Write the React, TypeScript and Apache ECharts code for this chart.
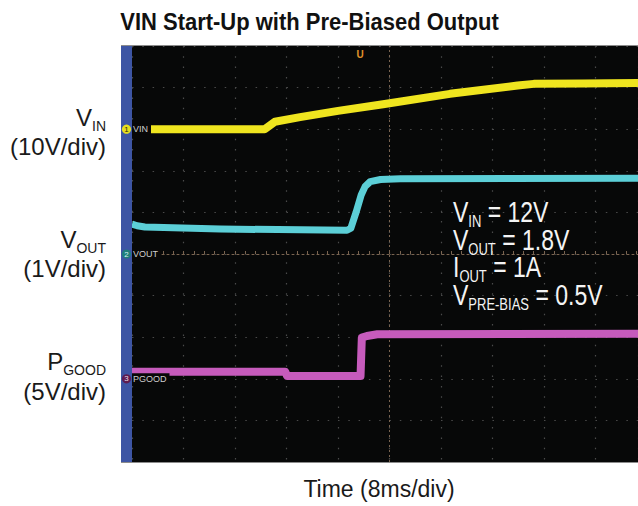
import React, { useEffect, useRef } from "react";
import * as echarts from "echarts";

// ---- data (time in ms, values in volts) ----
const vinTimes = [0, 20.6, 21.4, 22.2, 26.1, 32.0, 39.0, 49.4, 59.9, 62.4, 70.0, 78.6];
const vinVolts = [0, 0, 0.9, 1.8, 2.9, 4.4, 6.0, 8.5, 10.5, 10.9, 11.0, 11.1];

const voutTimes = [0, 0.8, 2.0, 13.7, 33.4, 34.0, 34.8, 35.6, 36.2, 37.0, 38.6, 41.7, 78.6];
const voutVolts = [0.72, 0.68, 0.65, 0.6, 0.57, 0.62, 1.0, 1.42, 1.62, 1.74, 1.79, 1.81, 1.82];

const pgoodTimes = [0, 23.8, 24.1, 35.5, 35.7, 36.5, 38.1, 78.6];
const pgoodVolts = [0.85, 0.85, 0.33, 0.33, 4.95, 5.15, 5.35, 5.42];

const timeMax = 78.6; // ms visible
const timeDiv = 8; // ms/div
const timeCenter = 40; // ms, centre graticule line
const vinScale = { min: -80, max: 20 }; // 10V/div
const voutScale = { min: -5, max: 5 }; // 1V/div
const pgoodScale = { min: -10, max: 40 }; // 5V/div

const titleText = "VIN Start-Up with Pre-Biased Output";
const timeLabel = "Time (8ms/div)";
const sideLabels = [
  { main: "V", sub: "IN", div: "(10V/div)" },
  { main: "V", sub: "OUT", div: "(1V/div)" },
  { main: "P", sub: "GOOD", div: "(5V/div)" },
];
const conditions = [
  { main: "V", sub: "IN", rest: " = 12V" },
  { main: "V", sub: "OUT", rest: " = 1.8V" },
  { main: "I", sub: "OUT", rest: " = 1A" },
  { main: "V", sub: "PRE-BIAS", rest: " = 0.5V" },
];
const channelNames = ["VIN", "VOUT", "PGOOD"];

const FONT = "Liberation Sans, Arial, Helvetica, sans-serif";

function pairs(t: number[], v: number[]) {
  return t.map((x, i) => [x, v[i]]);
}

export default function App() {
  const ref = useRef<HTMLDivElement>(null);
  useEffect(() => {
    const chart = echarts.init(ref.current!, null, { renderer: "svg" });

    const gridLeft = 132;
    const gridTop = 46;
    const gridH = 416;
    const gridW = 506;

    const subText = (
      x: number,
      y: number,
      main: string,
      sub: string,
      rest: string,
      align: string,
      size: number,
      subSize: number,
      lh: number,
      scaleY: number
    ) => ({
      type: "text",
      x,
      y,
      scaleY,
      z: 100,
      style: {
        text: `{m|${main}}{s|${sub}}` + (rest ? `{m|${rest}}` : ""),
        align,
        verticalAlign: "middle",
        fill: align === "right" ? "#1a1a1a" : "#f4f4f4",
        rich: {
          m: { fontSize: size, fontFamily: FONT, lineHeight: lh, verticalAlign: "middle" },
          s: { fontSize: subSize, fontFamily: FONT, lineHeight: subSize, verticalAlign: "bottom" },
        },
      },
    });

    const sideY = [
      [117, 146],
      [239, 268],
      [361, 391],
    ];
    const sideGraphics: any[] = [];
    sideLabels.forEach((l, i) => {
      sideGraphics.push(subText(106, sideY[i][0], l.main, l.sub, "", "right", 24, 14, 31, 1));
      sideGraphics.push({
        type: "text",
        x: 106,
        y: sideY[i][1],
        z: 100,
        style: { text: l.div, align: "right", verticalAlign: "middle", fontSize: 24, fontFamily: FONT, fill: "#1a1a1a" },
      });
    });

    const condY = [212, 240, 267, 295];
    const condGraphics = conditions.map((c, i) =>
      subText(453, condY[i], c.main, c.sub, c.rest, "left", 23, 13, 28, 1.25)
    );

    const markerY = [gridTop + 83.2, gridTop + 208, gridTop + 332.8];
    const markerFill = ["#e8df1e", "#1f7f7b", "#5e1c50"];
    const markerText = ["#2a2a10", "#d8f4f2", "#eadbe6"];
    const markerGraphics: any[] = [];
    channelNames.forEach((n, i) => {
      markerGraphics.push({
        type: "circle",
        z: 100,
        shape: { cx: 126.5, cy: markerY[i], r: 4.6 },
        style: { fill: markerFill[i] },
      });
      markerGraphics.push({
        type: "text",
        z: 101,
        x: 126.5,
        y: markerY[i],
        style: { text: String(i + 1), align: "center", verticalAlign: "middle", fontSize: 8, fontFamily: FONT, fill: markerText[i] },
      });
      markerGraphics.push({
        type: "text",
        z: 100,
        x: 132,
        y: markerY[i],
        style: {
          text: n,
          align: "left",
          verticalAlign: "middle",
          fontSize: 9,
          fontFamily: FONT,
          fill: "#cfcfcf",
          backgroundColor: "#080808",
          padding: [1, 3, 1, 1],
        },
      });
    });

    const centerColor = "#7a6450";
    const centerLine = { color: centerColor, width: 1, type: [2, 3] as any };

    const option: any = {
      animation: false,
      backgroundColor: "#ffffff",
      grid: {
        left: gridLeft,
        top: gridTop,
        width: gridW,
        height: gridH,
        show: true,
        backgroundColor: "#070808",
        borderWidth: 0,
      },
      xAxis: [
        {
          type: "value",
          min: 0,
          max: timeMax,
          interval: timeDiv,
          axisLine: { show: false },
          axisTick: { show: false },
          axisLabel: { show: false },
          splitLine: { show: true, lineStyle: { color: "#4a4a4a", width: 1.2, type: [1.5, 8.8] } },
        },
        {
          type: "value",
          min: 0,
          max: timeMax,
          interval: timeDiv,
          position: "bottom",
          offset: -208,
          axisLine: { show: true, onZero: false, lineStyle: centerLine },
          axisTick: { show: true, length: 3, inside: true, lineStyle: { color: centerColor } },
          minorTick: { show: true, splitNumber: 5, length: 3, lineStyle: { color: centerColor } },
          axisLabel: { show: false },
          splitLine: { show: false },
        },
      ],
      yAxis: [
        {
          type: "value",
          min: voutScale.min,
          max: voutScale.max,
          interval: 1,
          axisLine: { show: false },
          axisTick: { show: false },
          axisLabel: { show: false },
          splitLine: { show: true, lineStyle: { color: "#4a4a4a", width: 1.2, type: [1.5, 8.8] } },
        },
        { type: "value", min: vinScale.min, max: vinScale.max, show: false },
        { type: "value", min: pgoodScale.min, max: pgoodScale.max, show: false },
      ],
      series: [
        {
          name: "VIN",
          type: "line",
          yAxisIndex: 1,
          data: pairs(vinTimes, vinVolts),
          showSymbol: false,
          lineStyle: { color: "#efe51f", width: 8, join: "round" },
          z: 5,
        },
        {
          name: "VOUT",
          type: "line",
          yAxisIndex: 0,
          data: pairs(voutTimes, voutVolts),
          showSymbol: false,
          lineStyle: { color: "#5ccfd7", width: 7, join: "round" },
          z: 5,
          markLine: {
            silent: true,
            symbol: "none",
            label: { show: false },
            lineStyle: { color: centerColor, width: 1, type: [2, 3] },
            data: [{ xAxis: timeCenter }],
            z: 1,
          },
        },
        {
          name: "PGOOD",
          type: "line",
          yAxisIndex: 2,
          data: pairs(pgoodTimes, pgoodVolts),
          showSymbol: false,
          lineStyle: { color: "#c65bbc", width: 8, join: "round" },
          z: 5,
        },
      ],
      graphic: [
        {
          type: "rect",
          z: 90,
          shape: { x: 121, y: gridTop, width: 11, height: gridH },
          style: { fill: "#3d55a4" },
        },
        {
          type: "line",
          z: 91,
          shape: { x1: 121, y1: gridTop + gridH + 0.5, x2: 638, y2: gridTop + gridH + 0.5 },
          style: { stroke: "#8c8c8c", lineWidth: 1 },
        },
        {
          type: "line",
          z: 91,
          shape: { x1: 121, y1: gridTop - 0.5, x2: 638, y2: gridTop - 0.5 },
          style: { stroke: "#8c8c8c", lineWidth: 1 },
        },
        {
          type: "text",
          z: 100,
          x: 309.5,
          y: 22,
          scaleY: 1.08,
          style: {
            text: titleText,
            align: "center",
            verticalAlign: "middle",
            fontSize: 22,
            fontWeight: "bold",
            fontFamily: FONT,
            fill: "#111",
          },
        },
        {
          type: "text",
          z: 100,
          x: 379,
          y: 489,
          style: {
            text: timeLabel,
            align: "center",
            verticalAlign: "middle",
            fontSize: 23,
            fontFamily: FONT,
            fill: "#1a1a1a",
          },
        },
        {
          type: "text",
          z: 100,
          x: 360,
          y: 54,
          style: {
            text: "U",
            align: "center",
            verticalAlign: "middle",
            fontSize: 10,
            fontWeight: "bold",
            fontFamily: FONT,
            fill: "#e3922a",
          },
        },
        ...sideGraphics,
        ...condGraphics,
        ...markerGraphics,
      ],
    };

    chart.setOption(option);
    return () => chart.dispose();
  }, []);

  return (
    <div
      ref={ref}
      style={{ position: "fixed", left: 0, top: 0, width: 638, height: 506, background: "#fff" }}
    />
  );
}
